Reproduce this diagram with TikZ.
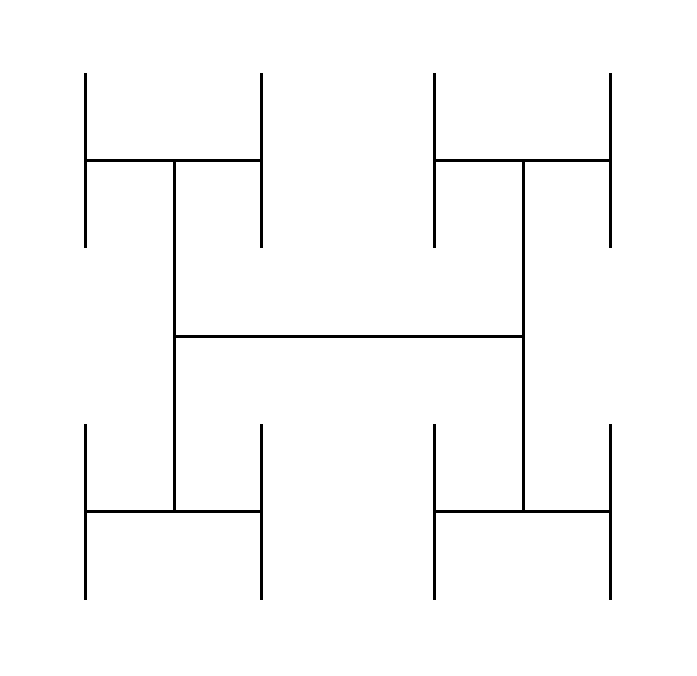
\documentclass[tikz,border=0pt]{standalone}
\usepackage{tikz}

\begin{document}
\begin{tikzpicture}[x=1pt, y=-1pt,
      bar/.style={draw=black, line width=3pt}]
      \useasboundingbox (0,0) rectangle (697,676);
      % big H in the middle
      \coordinate (hl) at (174,337);
      \coordinate (hr) at (523,337);
      \draw[bar] (hl) -- (hr);
      \draw[bar] (174,161) -- (174,512);
      \draw[bar] (523,161) -- (523,512);
      % small H at each end
      \foreach \cx/\cy in {174/161, 523/161, 174/512, 523/512} {
        \draw[bar] (\cx-88.5,\cy) -- (\cx+87,\cy);
        \draw[bar] (\cx-88.5,\cy-87.5) -- (\cx-88.5,\cy+87.5);
        \draw[bar] (\cx+87,\cy-87.5) -- (\cx+87,\cy+87.5);
      }
    \end{tikzpicture}
\end{document}
